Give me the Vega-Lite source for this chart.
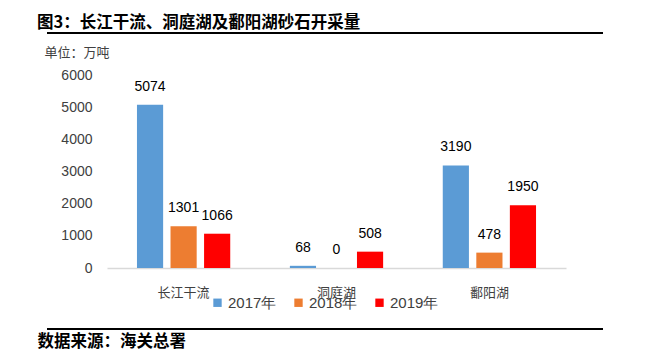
{
  "$schema": "https://vega.github.io/schema/vega-lite/v6.json",
  "width": 459,
  "height": 193,
  "autosize": {"type": "none"},
  "padding": {"left": 107, "top": 75, "right": 79, "bottom": 92},
  "background": "white",
  "config": {
    "view": {"stroke": null},
    "font": "Liberation Sans"
  },
  "title": {
    "text": "图3：长江干流、洞庭湖及鄱阳湖砂石开采量",
    "anchor": "start",
    "frame": "group",
    "dx": -70,
    "offset": 1,
    "font": "Noto Sans CJK SC",
    "fontSize": 16.5,
    "fontWeight": "bold",
    "color": "#000000"
  },
  "data": {
    "values": [
      {"region": "长江干流", "year": "2017年", "value": 5074},
      {"region": "长江干流", "year": "2018年", "value": 1301},
      {"region": "长江干流", "year": "2019年", "value": 1066},
      {"region": "洞庭湖", "year": "2017年", "value": 68},
      {"region": "洞庭湖", "year": "2018年", "value": 0},
      {"region": "洞庭湖", "year": "2019年", "value": 508},
      {"region": "鄱阳湖", "year": "2017年", "value": 3190},
      {"region": "鄱阳湖", "year": "2018年", "value": 478},
      {"region": "鄱阳湖", "year": "2019年", "value": 1950}
    ]
  },
  "encoding": {
    "x": {
      "field": "region",
      "type": "nominal",
      "sort": null,
      "scale": {"paddingInner": 0.39, "paddingOuter": 0.196},
      "axis": {
        "title": "数据来源：海关总署",
        "titleFont": "Noto Sans CJK SC",
        "titleFontSize": 16.5,
        "titleFontWeight": "bold",
        "titleColor": "#000000",
        "titleAnchor": "start",
        "titleAlign": "left",
        "titleBaseline": "middle",
        "titleX": -70,
        "titleY": 73,
        "labelAngle": 0,
        "labelFont": "Noto Sans CJK SC",
        "labelFontSize": 13,
        "labelColor": "#404040",
        "labelPadding": 18,
        "ticks": false,
        "domainColor": "#D9D9D9",
        "domainWidth": 1.5
      }
    },
    "xOffset": {
      "field": "year",
      "type": "nominal",
      "scale": {"paddingInner": 0.22}
    },
    "y": {
      "field": "value",
      "type": "quantitative",
      "scale": {"domain": [0, 6000]},
      "axis": {
        "title": "单位：万吨",
        "titleFont": "Noto Sans CJK SC",
        "titleFontSize": 13,
        "titleFontWeight": "normal",
        "titleColor": "#404040",
        "titleAngle": 0,
        "titleAlign": "left",
        "titleBaseline": "middle",
        "titleX": -63,
        "titleY": -23,
        "values": [0, 1000, 2000, 3000, 4000, 5000, 6000],
        "format": "d",
        "labelFontSize": 14,
        "labelColor": "#404040",
        "labelPadding": 15,
        "ticks": false,
        "domain": false,
        "grid": false
      }
    }
  },
  "layer": [
    {
      "mark": {"type": "bar"},
      "encoding": {
        "color": {
          "field": "year",
          "type": "nominal",
          "scale": {"domain": ["2017年", "2018年", "2019年"], "range": ["#5B9BD5", "#ED7D31", "#FF0000"]},
          "legend": {
            "title": null,
            "orient": "none",
            "direction": "horizontal",
            "legendX": 103,
            "legendY": 220,
            "symbolType": "square",
            "symbolSize": 70,
            "labelFontSize": 15,
            "labelColor": "#404040",
            "labelFont": "Liberation Sans",
            "columnPadding": 14,
            "symbolOffset": 0,
            "labelOffset": 3
          }
        }
      }
    },
    {
      "mark": {"type": "text", "baseline": "bottom", "dy": -11, "fontSize": 14, "color": "#000000"},
      "encoding": {
        "text": {"field": "value", "type": "quantitative", "format": "d"}
      }
    },
    {
      "mark": {"type": "rule", "color": "#000000", "strokeWidth": 2},
      "encoding": {
        "x": {"value": -73},
        "x2": {"value": 496},
        "y": {"value": -42}
      }
    },
    {
      "mark": {"type": "rule", "color": "#000000", "strokeWidth": 2},
      "encoding": {
        "x": {"value": -73},
        "x2": {"value": 496},
        "y": {"value": 254}
      }
    }
  ]
}
